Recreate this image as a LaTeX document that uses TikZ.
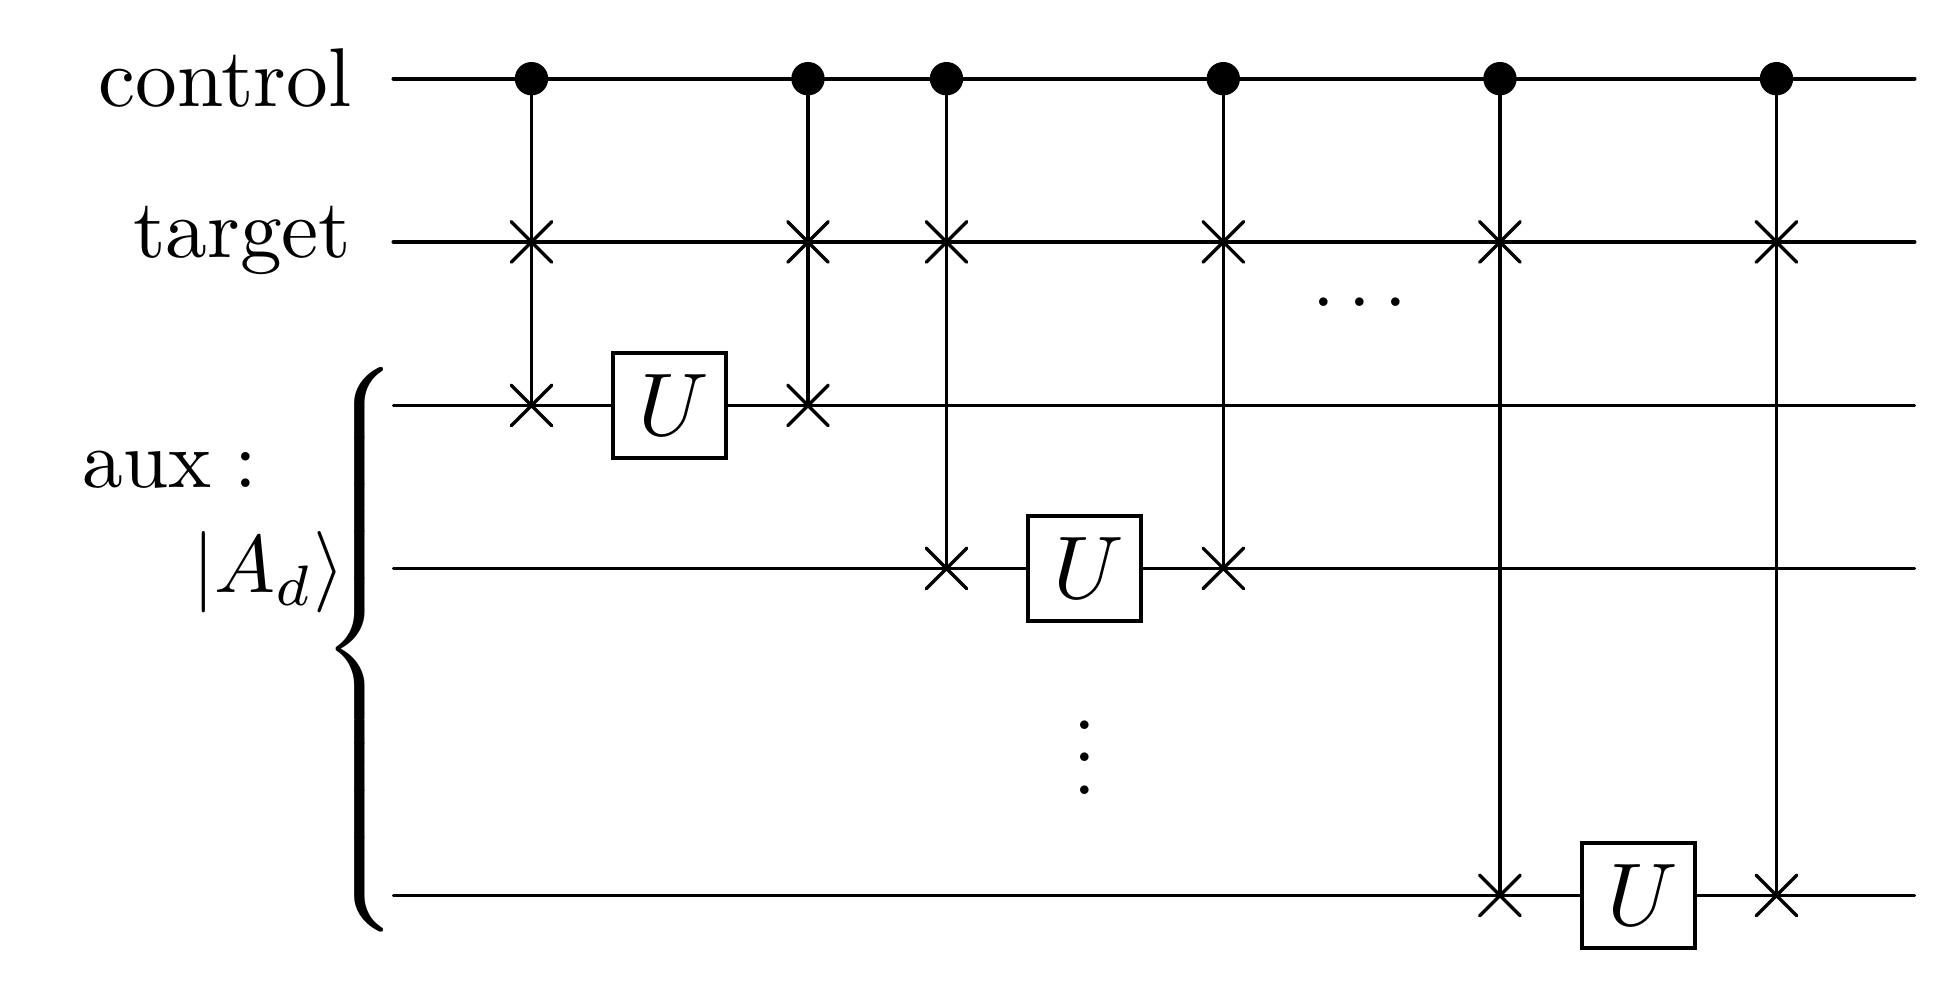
\documentclass[tikz,border=0pt]{standalone}
\usepackage{tikz}
\usetikzlibrary{shapes.misc}

\tikzset{
    wire/.style={line width=0.4pt, line cap=round},
    topwire/.style={line width=0.5pt, line cap=round},
    ctrl/.style={draw, circle, fill=black, inner sep=0pt, minimum size=3.7pt},
    swapx/.style={draw, cross out, inner sep=0pt, minimum size=4.6pt, line width=0.4pt, line cap=round},
    gate/.style={draw, fill=white, inner sep=0pt, line width=0.5pt, minimum width=13.9pt, minimum height=12.9pt, font=\fontsize{11}{13}\selectfont},
    lbl/.style={inner sep=0pt},
    biglbl/.style={inner sep=0pt, font=\fontsize{10.25}{12}\selectfont}
}

\begin{document}
\begin{tikzpicture}[x=0.1229pt, y=-0.1229pt]
            \useasboundingbox (0,0) rectangle (1957,991);

            % wires
            \coordinate (a0) at (393.5,78.7);
            \coordinate (a1) at (1914.5,78.7);
            \coordinate (b0) at (393.5,242);
            \coordinate (b1) at (1914.5,242);
            \coordinate (d0) at (393.5,405.5);
            \coordinate (d1) at (1914.5,405.5);
            \coordinate (e0) at (393.5,568.5);
            \coordinate (e1) at (1914.5,568.5);
            \coordinate (f0) at (393.5,895.5);
            \coordinate (f1) at (1914.5,895.5);
            \draw[topwire] (a0) -- (a1);
            \draw[topwire] (b0) -- (b1);
            \draw[wire] (d0) -- (d1);
            \draw[wire] (e0) -- (e1);
            \draw[wire] (f0) -- (f1);

            % labels
            \node[biglbl, anchor=base east] (control) at (353,107) {control};
            \node[biglbl, anchor=base east] (target) at (353,258) {target};
            \node[lbl, anchor=base west] (aux) at (80.8,488) {aux\hspace{2.8pt}:};
            \node[lbl, anchor=base east] (ket) at (347,593) {$|A_d\rangle$};
            \node[lbl, font=\fontsize{11.5}{13}\selectfont] (brace) at (365.5,649.5) {\scalebox{1.06}[0.964]{$\left\{\vcenter{\hbox{\rule{0pt}{72pt}}}\right.$}};

            % controls
            \node[ctrl] (c1) at (531.5,78.7) {};
            \node[ctrl] (c2) at (808,78.7) {};
            \node[ctrl] (c3) at (946.5,78.7) {};
            \node[ctrl] (c4) at (1223.3,78.7) {};
            \node[ctrl] (c5) at (1500,78.7) {};
            \node[ctrl] (c6) at (1776.5,78.7) {};

            % crosses
            \node[swapx] (t1) at (531.5,242) {};
            \node[swapx] (t2) at (808,242) {};
            \node[swapx] (t3) at (946.5,242) {};
            \node[swapx] (t4) at (1223.3,242) {};
            \node[swapx] (t5) at (1500,242) {};
            \node[swapx] (t6) at (1776.5,242) {};
            \node[swapx] (x1) at (531.5,405.5) {};
            \node[swapx] (x2) at (808,405.5) {};
            \node[swapx] (x3) at (946.5,568.5) {};
            \node[swapx] (x4) at (1223.3,568.5) {};
            \node[swapx] (x5) at (1500,895.5) {};
            \node[swapx] (x6) at (1776.5,895.5) {};

            \draw[wire] (c1.center) -- (x1.center);
            \draw[wire] (c2.center) -- (x2.center);
            \draw[wire] (c3.center) -- (x3.center);
            \draw[wire] (c4.center) -- (x4.center);
            \draw[wire] (c5.center) -- (x5.center);
            \draw[wire] (c6.center) -- (x6.center);

            % unitaries
            \node[gate] (u1) at (669.5,405.5) {\kern1pt$U$};
            \node[gate] (u2) at (1084.5,568.5) {\kern1pt$U$};
            \node[gate] (u3) at (1638.5,895.5) {\kern1pt$U$};

            \node[lbl] (hdots) at (1360,304) {$\cdots$};
            \node[lbl] (vdots) at (1084.5,733) {$\vdots$};
        \end{tikzpicture}
\end{document}
